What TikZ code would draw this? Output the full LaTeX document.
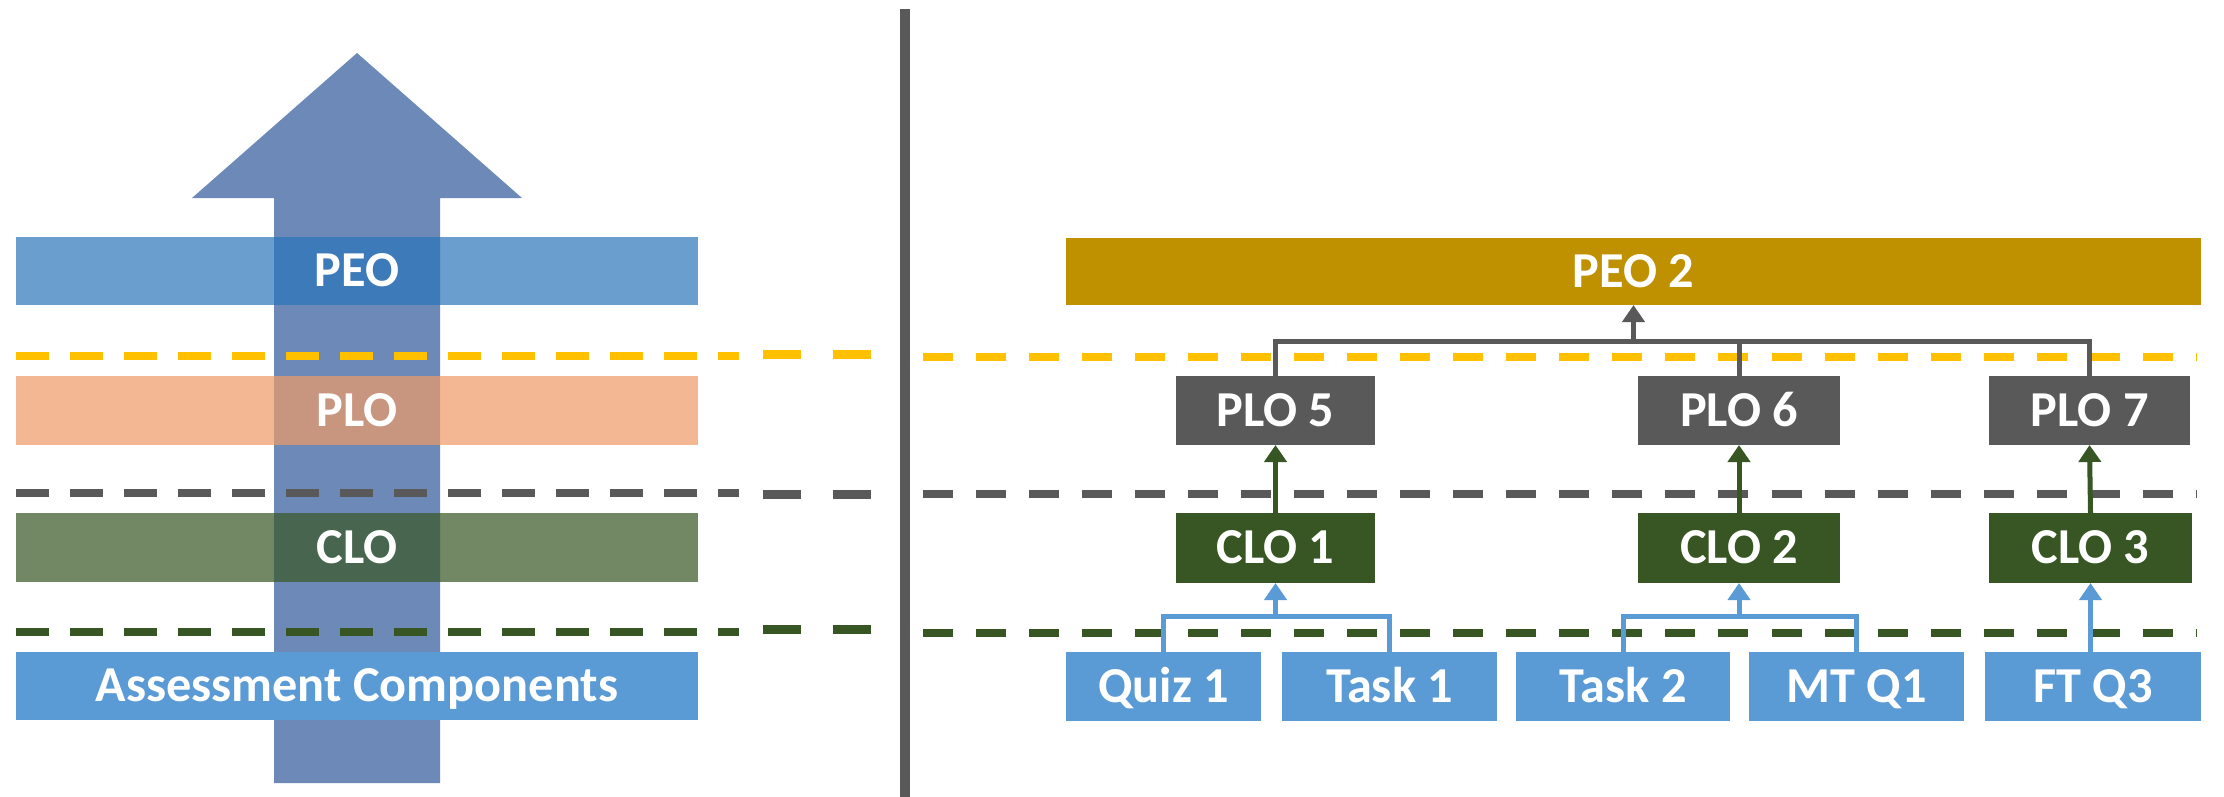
\documentclass[tikz,border=0pt]{standalone}
\usepackage{fontspec}
\setmainfont{Carlito}
\usetikzlibrary{arrows.meta}
\definecolor{arrowblue}{HTML}{6D89B8}
\definecolor{peoblue}{HTML}{2A75BA}
\definecolor{ploorange}{HTML}{EF9B66}
\definecolor{clogreen}{HTML}{375623}
\definecolor{acblue}{HTML}{5B9BD5}
\definecolor{darkgray}{HTML}{595959}
\definecolor{peogold}{HTML}{BF9000}
\definecolor{dashyellow}{HTML}{FFC000}
\tikzset{
  box/.style={inner sep=0pt, outer sep=0pt, text=white, anchor=center,
    text height=0.31cm, text depth=0cm,
    font=\bfseries\fontsize{14.3}{16}\selectfont},
  leftbar/.style={box, minimum width=6.82cm, minimum height=0.685cm},
  seethru/.style={fill opacity=0.7, text opacity=1},
  dashline/.style={line width=0.08cm, dash pattern=on 0.33cm off 0.21cm},
  middash/.style={line width=0.09cm, dash pattern=on 0.38cm off 0.32cm},
  rightdash/.style={line width=0.08cm, dash pattern=on 0.30cm off 0.23cm},
  plobox/.style={box, fill=darkgray, minimum height=0.69cm},
  clobox/.style={box, fill=clogreen, minimum height=0.70cm},
  acbox/.style={box, fill=acblue, minimum height=0.69cm},
  tip/.style={-{Triangle[length=0.17cm,width=0.22cm]}},
  grayconn/.style={draw=darkgray, line width=0.05cm},
  greenconn/.style={draw=clogreen, line width=0.05cm},
  blueconn/.style={draw=acblue, line width=0.05cm},
}
\begin{document}
\begin{tikzpicture}[x=0.01cm, y=-0.01cm]
\useasboundingbox (0,0) rectangle (2224,797);
\fill[white] (0,0) rectangle (2224,797);

% big arrow
\fill[arrowblue] (274,783) -- (274,198) -- (192,198) -- (357,53) -- (522,198)
  -- (440,198) -- (440,783) -- cycle;

% left bars
\node[leftbar, seethru, fill=peoblue] (lpeo) at (357,271) {PEO};
\node[leftbar, seethru, fill=ploorange] (lplo) at (357,410.5) {PLO};
\node[leftbar, seethru, fill=clogreen] (lclo) at (357,547.5) {CLO};
\node[leftbar, fill=acblue] (lac) at (357,686) {Assessment Components};

% dashed separators, left
\draw[dashline, dashyellow] (16,356) -- (739,356);
\draw[dashline, darkgray] (16,493) -- (739,493);
\draw[dashline, clogreen] (16,632) -- (739,632);
\draw[middash, dashyellow] (763,354) -- (880,354);
\draw[middash, darkgray] (763,494) -- (880,494);
\draw[middash, clogreen] (763,629) -- (880,629);

% dashed separators, right
\draw[rightdash, dashyellow] (923,357) -- (2196,357);
\draw[rightdash, darkgray] (923,494) -- (2196,494);
\draw[rightdash, clogreen] (923,633) -- (2196,633);

% divider
\fill[darkgray] (900,9) rectangle (910,797);

% right hierarchy
\node[box, fill=peogold, minimum width=11.35cm, minimum height=0.67cm] (peo2) at (1633.5,271.5) {PEO 2};
\node[plobox, minimum width=1.99cm] (plo5) at (1275.5,410.5) {PLO 5};
\node[plobox, minimum width=2.02cm] (plo6) at (1739,410.5) {PLO 6};
\node[plobox, minimum width=2.01cm] (plo7) at (2089.5,410.5) {PLO 7};
\node[clobox, minimum width=1.99cm] (clo1) at (1275.5,548) {CLO 1};
\node[clobox, minimum width=2.02cm] (clo2) at (1739,548) {CLO 2};
\node[clobox, minimum width=2.03cm] (clo3) at (2090.5,548) {CLO 3};
\node[acbox, minimum width=1.95cm] (quiz1) at (1163.5,686.5) {Quiz 1};
\node[acbox, minimum width=2.15cm] (task1) at (1389.5,686.5) {Task 1};
\node[acbox, minimum width=2.14cm] (task2) at (1623,686.5) {Task 2};
\node[acbox, minimum width=2.15cm] (mtq1) at (1856.5,686.5) {MT Q1};
\node[acbox, minimum width=2.16cm] (ftq3) at (2093,686.5) {FT Q3};

\coordinate (gbus) at (0,341);
\coordinate (bbus) at (0,616);

% PLO -> PEO
\draw[grayconn] (plo5.north) -- (plo5.north |- gbus) -- (plo7.north |- gbus) -- (plo7.north);
\draw[grayconn] (plo6.north) -- (plo6.north |- gbus);
\draw[grayconn, tip, fill=darkgray] (peo2.south |- gbus) -- (peo2.south);

% CLO -> PLO
\draw[greenconn, tip, fill=clogreen] (clo1.north) -- (plo5.south);
\draw[greenconn, tip, fill=clogreen] (clo2.north) -- (plo6.south);
\draw[greenconn, tip, fill=clogreen] (clo3.north) -- (plo7.south);

% assessments -> CLO
\draw[blueconn] (quiz1.north) -- (quiz1.north |- bbus) -- (task1.north |- bbus) -- (task1.north);
\draw[blueconn, tip, fill=acblue] (clo1.south |- bbus) -- (clo1.south);
\draw[blueconn] (task2.north) -- (task2.north |- bbus) -- (mtq1.north |- bbus) -- (mtq1.north);
\draw[blueconn, tip, fill=acblue] (clo2.south |- bbus) -- (clo2.south);
\draw[blueconn, tip, fill=acblue] (clo3.south |- ftq3.north) -- (clo3.south);
\end{tikzpicture}
\end{document}
